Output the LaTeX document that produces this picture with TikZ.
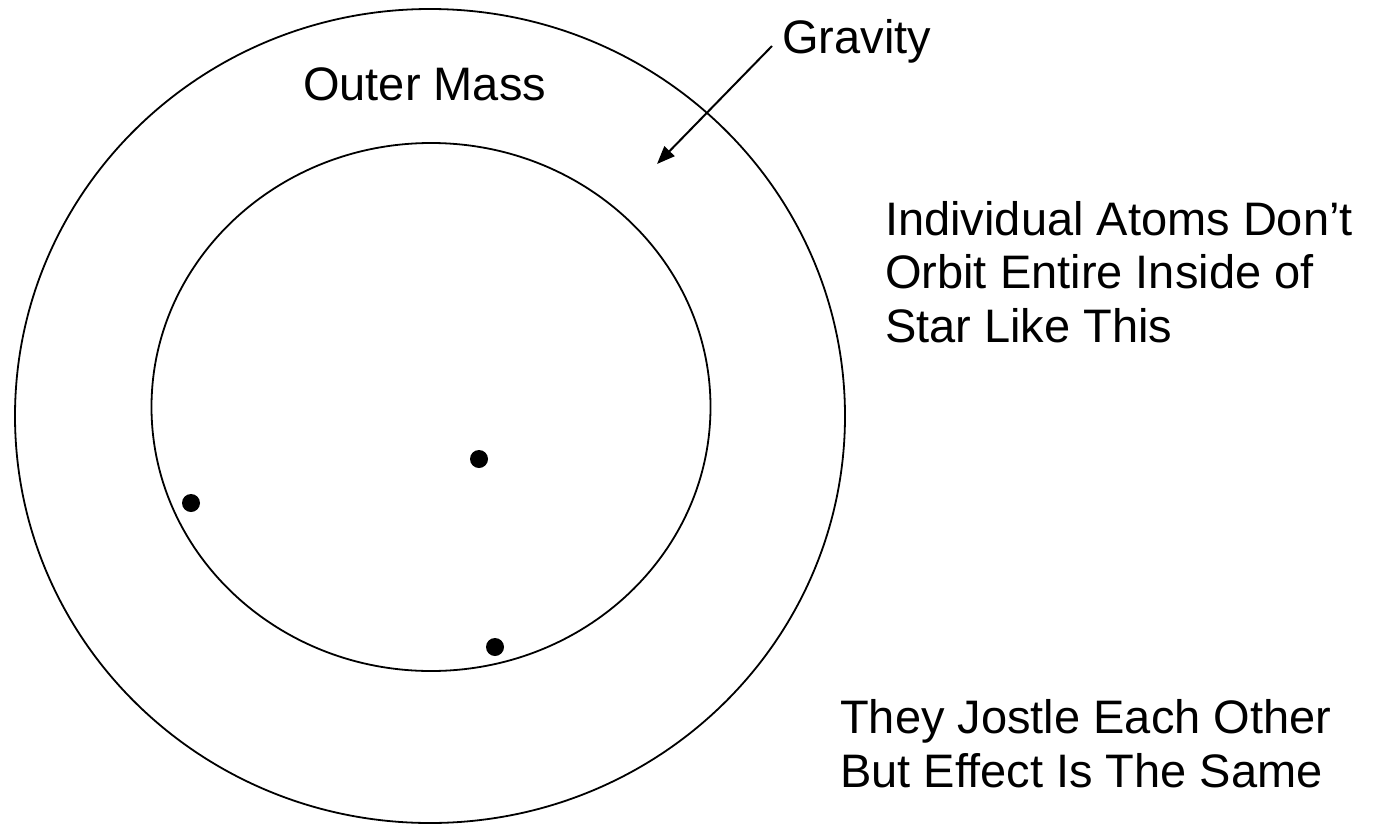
\documentclass[tikz,border=0pt]{standalone}
\usepackage{fontspec}
\setmainfont{Liberation Sans}
\usetikzlibrary{arrows.meta,shapes.geometric}
\begin{document}
\begin{tikzpicture}[x=1pt,y=-1pt,
  ring/.style={draw=black,line width=1.8pt,ellipse,inner sep=0pt},
  atom/.style={circle,fill=black,inner sep=0pt,minimum size=18pt},
  lbl/.style={anchor=base west,inner sep=0pt,align=left,
    font=\fontsize{47}{53.5}\selectfont},
  arr/.style={line width=2pt,-{Triangle[length=18pt,width=14pt]}}]
\useasboundingbox (0,0) rectangle (1393,825);
\node[ring,minimum width=830pt,minimum height=814pt] (outer) at (430,416) {};
\node[ring,minimum width=559pt,minimum height=528pt] (inner) at (431,407) {};
\node[atom] (a1) at (479,459) {};
\node[atom] (a2) at (191,503) {};
\node[atom] (a3) at (495,647) {};
\node[lbl] (outermass) at (303,100) {Outer Mass};
\node[lbl] (gravity) at (782,53) {Gravity};
\node[lbl] (orbit) at (885,342) {Individual Atoms Don’t\\Orbit Entire Inside of\\Star Like This};
\node[lbl] (jostle) at (840,787) {They Jostle Each Other\\But Effect Is The Same};
\coordinate (gstart) at (772,46);
\coordinate (gend) at (657,164);
\draw[arr] (gstart) -- (gend);
\end{tikzpicture}
\end{document}
